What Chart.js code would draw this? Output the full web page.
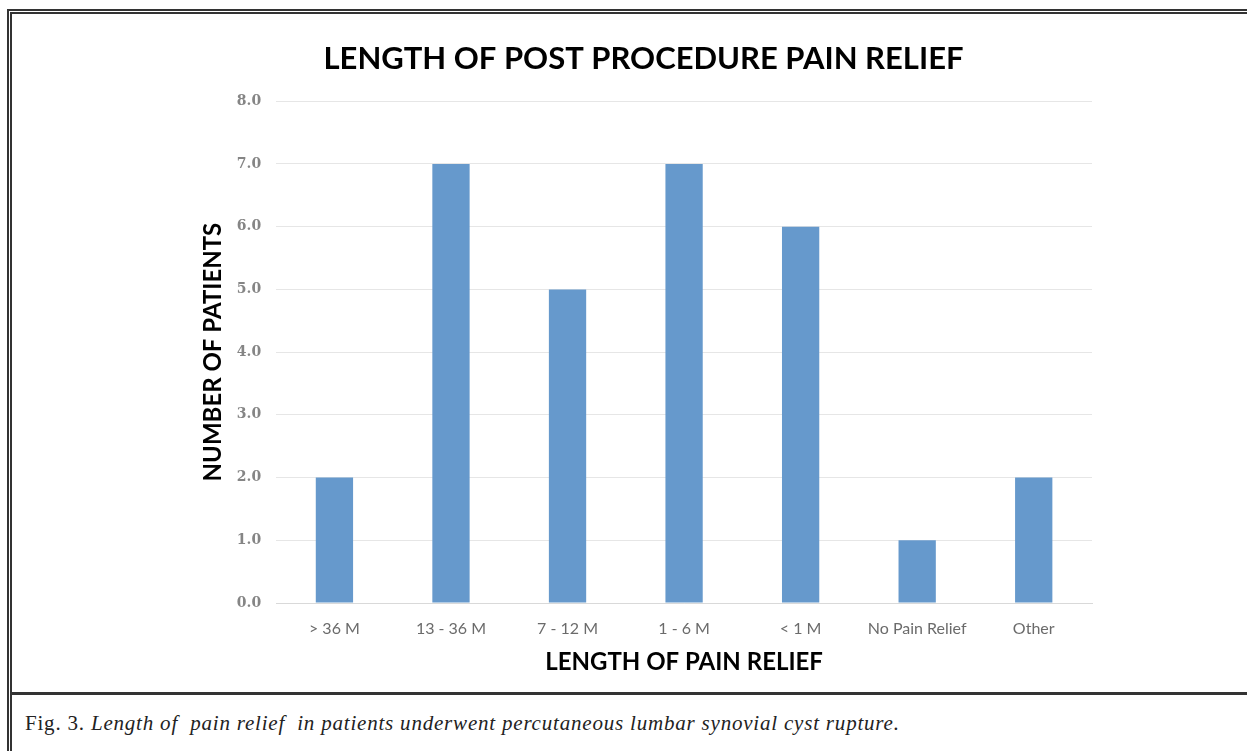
<!DOCTYPE html>
<html>
<head>
<meta charset="utf-8">
<script src="https://cdn.jsdelivr.net/npm/chart.js@4/dist/chart.umd.min.js"></script>
<style>
  body { margin: 0; background: #fff; width: 1247px; height: 751px; overflow: hidden; position: relative; }
  .frame { position: absolute; left: 7px; top: 9px; width: 1260px; height: 760px;
           border-top: 5px double #333; border-left: 5px double #333; box-sizing: border-box; }
  .divider { position: absolute; left: 12px; top: 692px; width: 1240px; height: 3px; background: #333; }
  .chart-box { position: absolute; left: 12px; top: 14px; width: 1235px; height: 676px; }
  .caption { position: absolute; left: 25px; top: 711px; font-family: "Liberation Serif", "DejaVu Serif", serif;
             font-size: 21px; letter-spacing: 0.8px; color: #222; }
  .caption i { font-style: italic; }
</style>
</head>
<body>
<div class="frame"></div>
<div class="chart-box"><canvas id="painChart"></canvas></div>
<div class="divider"></div>
<div class="caption">Fig. 3. <i>Length of&nbsp; pain relief&nbsp; in patients underwent percutaneous lumbar synovial cyst rupture.</i></div>
<script>
// Chart data
const categories = ['> 36 M', '13 - 36 M', '7 - 12 M', '1 - 6 M', '< 1 M', 'No Pain Relief', 'Other'];
const patientCounts = [2, 7, 5, 7, 6, 1, 2];
const yTicks = [0, 1, 2, 3, 4, 5, 6, 7, 8];

document.addEventListener('DOMContentLoaded', function() {
    const ctx = document.getElementById('painChart').getContext('2d');
    new Chart(ctx, {
        type: 'bar',
        data: {
            labels: categories,
            datasets: [{
                data: patientCounts,
                backgroundColor: '#6699cc',
                borderWidth: 0,
                categoryPercentage: 1.0,
                barPercentage: 0.32
            }]
        },
        options: {
            responsive: true,
            maintainAspectRatio: false,
            animation: false,
            layout: {
                padding: { left: 183, right: 155, top: 16, bottom: 9 }
            },
            scales: {
                x: {
                    grid: { display: false },
                    border: { color: '#d9d9d9', width: 1 },
                    ticks: {
                        color: '#6b6b6b',
                        font: { family: 'Lato', size: 16 },
                        padding: 8
                    },
                    title: {
                        display: true,
                        text: 'LENGTH OF PAIN RELIEF',
                        color: '#000',
                        font: { family: 'Lato', size: 24, weight: 'bold' },
                        padding: { top: 2 }
                    }
                },
                y: {
                    min: 0,
                    max: yTicks[yTicks.length - 1],
                    afterBuildTicks: function(axis) {
                        axis.ticks = yTicks.map(v => ({ value: v }));
                    },
                    grid: { color: '#e6e6e6', drawTicks: false },
                    border: { display: false },
                    ticks: {
                        color: '#858585',
                        font: { family: 'DejaVu Serif', size: 14, weight: 'bold' },
                        padding: 15,
                        callback: value => value.toFixed(1)
                    },
                    title: {
                        display: true,
                        text: 'NUMBER OF PATIENTS',
                        color: '#000',
                        font: { family: 'Lato', size: 24, weight: 'bold' },
                        padding: { top: 4, bottom: -6 }
                    }
                }
            },
            plugins: {
                legend: { display: false },
                tooltip: { enabled: false },
                title: {
                    display: true,
                    text: 'LENGTH OF POST PROCEDURE PAIN RELIEF',
                    color: '#000',
                    font: { family: 'Lato', size: 31, weight: 'bold' },
                    padding: { top: 10, bottom: 24 }
                }
            }
        }
    });
});
</script>
</body>
</html>
